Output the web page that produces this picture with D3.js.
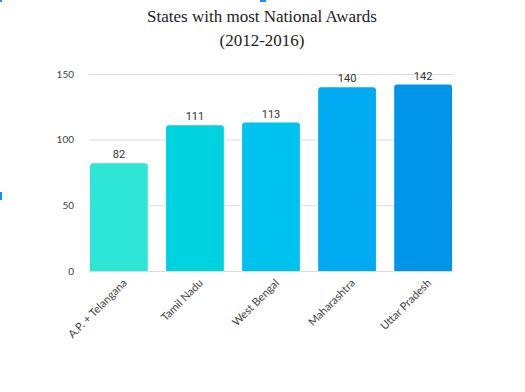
<!DOCTYPE html>
<html><head><meta charset="utf-8">
<script src="https://cdn.jsdelivr.net/npm/d3@7/dist/d3.min.js"></script>
<style>html,body{margin:0;padding:0;background:#fff;}svg{display:block;}</style>
</head><body>
<script>
const categories = ["A.P. + Telangana", "Tamil Nadu", "West Bengal", "Maharashtra", "Uttar Pradesh"];
const values = [82, 111, 113, 140, 142];
const colors = ["#2ee6d6", "#00d3e0", "#00c2ee", "#00abf2", "#0095e8"];
const yTicks = [0, 50, 100, 150];
const titleLines = ["States with most National Awards", "(2012-2016)"];

const W = 525, H = 392;
const svg = d3.select("body").append("svg").attr("width", W).attr("height", H);

// small blue selection marks at the edges
svg.append("rect").attr("x", 0).attr("y", 0).attr("width", 2).attr("height", 2).attr("fill", "#1a8cff");
svg.append("rect").attr("x", 260).attr("y", 0).attr("width", 6).attr("height", 2).attr("fill", "#1a8cff");
svg.append("rect").attr("x", 0).attr("y", 192).attr("width", 2).attr("height", 8).attr("fill", "#1a8cff");

const x = d3.scaleBand().domain(categories).range([90, 452]).paddingInner(0.24).paddingOuter(0);
const y = d3.scaleLinear().domain([0, 150]).range([271, 74]);

// title
svg.selectAll("text.title").data(titleLines).join("text")
  .attr("class", "title")
  .attr("x", 262).attr("y", (d, i) => 22 + i * 24)
  .attr("text-anchor", "middle")
  .attr("font-family", "Liberation Serif, Times New Roman, serif")
  .attr("font-size", 17).attr("fill", "#222")
  .text(d => d);

// gridlines
svg.append("g").selectAll("line").data(yTicks).join("line")
  .attr("x1", 89).attr("x2", 453)
  .attr("y1", d => y(d) + 0.5).attr("y2", d => y(d) + 0.5)
  .attr("stroke", "#dcdcdc").attr("stroke-width", 1);

// y axis labels
const yAxis = d3.axisLeft(y).tickValues(yTicks).tickSize(0).tickPadding(8);
const gy = svg.append("g").attr("transform", "translate(82,0)").call(yAxis);
gy.select(".domain").remove();
gy.selectAll("text").attr("font-family", "Lato, Open Sans, sans-serif").attr("font-size", 10).attr("fill", "#444");

// bars with rounded tops
const r = 3;
function barPath(d, i) {
  const x0 = x(categories[i]), w = x.bandwidth();
  const yt = y(d), yb = y(0);
  return `M${x0},${yb}V${yt + r}Q${x0},${yt} ${x0 + r},${yt}H${x0 + w - r}Q${x0 + w},${yt} ${x0 + w},${yt + r}V${yb}Z`;
}
svg.append("g").selectAll("path").data(values).join("path")
  .attr("d", (d, i) => barPath(d, i))
  .attr("fill", (d, i) => colors[i]);

// value labels
svg.append("g").selectAll("text").data(values).join("text")
  .attr("x", (d, i) => x(categories[i]) + x.bandwidth() / 2)
  .attr("y", d => y(d) - 5)
  .attr("text-anchor", "middle")
  .attr("font-family", "Roboto, Liberation Sans, sans-serif")
  .attr("font-size", 11).attr("fill", "#333")
  .text(d => d);

// x axis labels
const xAxis = d3.axisBottom(x).tickSize(0).tickPadding(0);
const gx = svg.append("g").attr("transform", "translate(0,271)").call(xAxis);
gx.select(".domain").remove();
gx.selectAll("text")
  .attr("font-family", "Lato, Open Sans, sans-serif").attr("font-size", 11).attr("fill", "#444")
  .attr("text-anchor", "end")
  .attr("dy", "0.35em")
  .attr("transform", "translate(6,10) rotate(-45)");
</script>
</body></html>
